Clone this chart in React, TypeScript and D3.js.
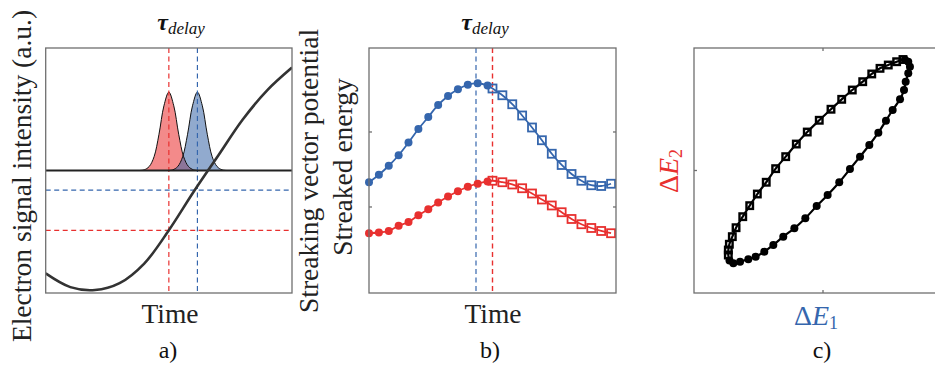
import React from 'react';
import * as d3 from 'd3';

// ---------- Panel a data ----------
const potentialTime = [0, 2.5, 5, 7.5, 10, 12.5, 15, 17.5, 20, 22.5, 25];
const potentialValue = [-1.05, -1.19, -1.22, -1.15, -0.95, -0.61, -0.22, 0.15, 0.52, 0.82, 1.05];
const pulseOffset = [-3, -2.5, -2, -1.5, -1, -0.5, 0, 0.5, 1, 1.5, 2, 2.5, 3];
const pulseShape = [0, 0.007, 0.04, 0.14, 0.37, 0.66, 0.8, 0.66, 0.37, 0.14, 0.04, 0.007, 0];
const redPulseCenter = 12.5;
const bluePulseCenter = 15.4;
const redLevel = -0.61;
const blueLevel = -0.2;

// ---------- Panel b data ----------
const circleTimes = [0, 1, 2, 3, 4, 5, 6, 7, 8, 9, 10, 11, 12];
const squareTimes = [12.5, 13.5, 14.5, 15.5, 16.5, 17.5, 18.5, 19.5, 20.5, 21.5, 22.5, 23.5, 24.5];
const blueCircle = [-0.67, -0.57, -0.45, -0.31, -0.14, 0.04, 0.2, 0.36, 0.48, 0.57, 0.63, 0.65, 0.62];
const blueSquare = [0.58, 0.49, 0.37, 0.22, 0.06, -0.11, -0.29, -0.44, -0.56, -0.65, -0.71, -0.72, -0.69];
const redCircle = [-1.35, -1.34, -1.32, -1.25, -1.2, -1.11, -1.03, -0.94, -0.86, -0.79, -0.73, -0.69, -0.66];
const redSquare = [-0.65, -0.67, -0.7, -0.75, -0.82, -0.9, -0.98, -1.07, -1.16, -1.23, -1.28, -1.32, -1.35];
const bDelayBlue = 10.83;
const bDelayRed = 12.5;
const bTicks = [-1, 0];

// ---------- Panel c data ----------
const sqE1 = [0.62, 0.571, 0.506, 0.442, 0.378, 0.308, 0.227, 0.145, 0.062, -0.029, -0.122, -0.207, -0.289, -0.367, -0.44, -0.509, -0.568, -0.622, -0.674, -0.703, -0.726, -0.734, -0.734];
const sqE2 = [0.906, 0.888, 0.861, 0.834, 0.788, 0.725, 0.657, 0.581, 0.5, 0.41, 0.314, 0.216, 0.113, 0.015, -0.096, -0.192, -0.287, -0.377, -0.467, -0.54, -0.602, -0.649, -0.69];
const ciE1 = [-0.725, -0.695, -0.643, -0.579, -0.522, -0.455, -0.385, -0.308, -0.222, -0.137, -0.049, 0.036, 0.126, 0.209, 0.287, 0.359, 0.429, 0.488, 0.54, 0.597, 0.628, 0.641, 0.661, 0.674, 0.661, 0.635];
const ciE2 = [-0.735, -0.758, -0.745, -0.725, -0.704, -0.663, -0.608, -0.54, -0.472, -0.39, -0.29, -0.2, -0.096, 0.012, 0.113, 0.208, 0.309, 0.407, 0.494, 0.581, 0.657, 0.725, 0.793, 0.847, 0.888, 0.905];
const cTicks = [0];

const RED = '#e8302f';
const BLUE = '#3566ad';
const BOX = '#6f6f6f';
const SERIF = '"Liberation Serif", "Times New Roman", serif';
const LABEL = 27.5;

const Y0 = 48, Y1 = 293;

function Tau({ x }: { x: number }) {
  return (
    <text x={x} y={30} fontFamily={SERIF} textAnchor="middle" fill="#111">
      <tspan fontSize={24} fontWeight="bold" fontStyle="italic">τ</tspan>
      <tspan fontSize={17} fontStyle="italic" dy={4}>delay</tspan>
    </text>
  );
}

export default function App() {
  // Panel a
  const ax = d3.scaleLinear().domain([0, 25]).range([45.7, 292]);
  const ay = d3.scaleLinear().domain([-1.25, 1.25]).range([Y1, Y0]);
  const potLine = d3.line<number>().x((_, i) => ax(potentialTime[i])).y((d) => ay(d)).curve(d3.curveCatmullRom.alpha(0.5));
  const pulseArea = (c: number) =>
    d3.area<number>().x((_, i) => ax(c + pulseOffset[i])).y0(ay(0)).y1((d) => ay(d)).curve(d3.curveCatmullRom.alpha(0.5))(pulseShape) as string;
  const pulseLine = (c: number) =>
    d3.line<number>().x((_, i) => ax(c + pulseOffset[i])).y((d) => ay(d)).curve(d3.curveCatmullRom.alpha(0.5))(pulseShape) as string;

  // Panel b
  const bx = d3.scaleLinear().domain([0, 25]).range([369, 616]);
  const by = d3.scaleLinear().domain([-2.147, 1.12]).range([Y1, Y0]);
  const allT = [...circleTimes, ...squareTimes];
  const bLine = (vals: number[]) =>
    d3.line<number>().x((_, i) => bx(allT[i])).y((d) => by(d)).curve(d3.curveCatmullRom.alpha(0.5))(vals) as string;

  // Panel c
  const cx = d3.scaleLinear().domain([-1, 1]).range([694, 952]);
  const cy = d3.scaleLinear().domain([-1, 1]).range([Y1, Y0]);
  const loopPts: [number, number][] = [
    ...sqE1.map((v, i) => [v, sqE2[i]] as [number, number]),
    ...ciE1.map((v, i) => [v, ciE2[i]] as [number, number]),
  ];
  const cLoop = d3.line<[number, number]>().x((d) => cx(d[0])).y((d) => cy(d[1])).curve(d3.curveCatmullRomClosed.alpha(0.5))(loopPts) as string;

  const dash = '5,3.5';
  const sq = 8;
  const csq = 6.5;

  return (
    <svg width={935} height={371} style={{ position: 'absolute', left: 0, top: 0, background: '#fff' }}>
      <defs>
        <clipPath id="clipA"><rect x={45.7} y={Y0} width={292 - 45.7} height={Y1 - Y0} /></clipPath>
        <clipPath id="clipC"><rect x={694} y={Y0} width={300} height={Y1 - Y0} /></clipPath>
      </defs>

      {/* ===== Panel a ===== */}
      <g>
        <g clipPath="url(#clipA)">
          <path d={pulseArea(redPulseCenter)} fill="rgb(235,60,60)" fillOpacity={0.6} />
          <path d={pulseArea(bluePulseCenter)} fill="rgb(55,100,165)" fillOpacity={0.55} />
          <path d={pulseLine(redPulseCenter)} fill="none" stroke="#111" strokeWidth={1} />
          <path d={pulseLine(bluePulseCenter)} fill="none" stroke="#111" strokeWidth={1} />
          <line x1={ax(0)} x2={ax(25)} y1={ay(blueLevel)} y2={ay(blueLevel)} stroke={BLUE} strokeWidth={1.2} strokeDasharray={dash} />
          <line x1={ax(0)} x2={ax(25)} y1={ay(redLevel)} y2={ay(redLevel)} stroke={RED} strokeWidth={1.2} strokeDasharray={dash} />
          <line x1={ax(redPulseCenter)} x2={ax(redPulseCenter)} y1={Y0} y2={Y1} stroke={RED} strokeWidth={1.2} strokeDasharray={dash} />
          <line x1={ax(bluePulseCenter)} x2={ax(bluePulseCenter)} y1={Y0} y2={Y1} stroke={BLUE} strokeWidth={1.2} strokeDasharray={dash} />
          <line x1={ax(0)} x2={ax(25)} y1={ay(0)} y2={ay(0)} stroke="#222" strokeWidth={2} />
          <path d={potLine(potentialValue) as string} fill="none" stroke="#333" strokeWidth={2.6} />
        </g>
        <rect x={45.7} y={Y0} width={292 - 45.7} height={Y1 - Y0} fill="none" stroke={BOX} strokeWidth={1.3} />
        <Tau x={181} />
        <text transform={`translate(31,176) rotate(-90)`} textAnchor="middle" fontFamily={SERIF} fontSize={LABEL} fill="#222">Electron signal intensity (a.u.)</text>
        <text x={170} y={323} textAnchor="middle" fontFamily={SERIF} fontSize={LABEL} fill="#222">Time</text>
        <text x={168} y={358} textAnchor="middle" fontFamily={SERIF} fontSize={24} fill="#111">a)</text>
      </g>

      {/* ===== Panel b ===== */}
      <g>
        <line x1={bx(bDelayBlue)} x2={bx(bDelayBlue)} y1={Y0} y2={Y1} stroke={BLUE} strokeWidth={1.2} strokeDasharray={dash} />
        <line x1={bx(bDelayRed)} x2={bx(bDelayRed)} y1={Y0} y2={Y1} stroke={RED} strokeWidth={1.4} strokeDasharray={dash} />
        <path d={bLine([...blueCircle, ...blueSquare])} fill="none" stroke={BLUE} strokeWidth={1.8} />
        <path d={bLine([...redCircle, ...redSquare])} fill="none" stroke={RED} strokeWidth={1.8} />
        {blueCircle.map((v, i) => <circle key={'bc' + i} cx={bx(circleTimes[i])} cy={by(v)} r={4} fill={BLUE} />)}
        {redCircle.map((v, i) => <circle key={'rc' + i} cx={bx(circleTimes[i])} cy={by(v)} r={4} fill={RED} />)}
        {blueSquare.map((v, i) => <rect key={'bs' + i} x={bx(squareTimes[i]) - sq / 2} y={by(v) - sq / 2} width={sq} height={sq} fill="none" stroke={BLUE} strokeWidth={1.8} />)}
        {redSquare.map((v, i) => <rect key={'rs' + i} x={bx(squareTimes[i]) - sq / 2} y={by(v) - sq / 2} width={sq} height={sq} fill="none" stroke={RED} strokeWidth={1.8} />)}
        <rect x={369} y={Y0} width={616 - 369} height={Y1 - Y0} fill="none" stroke={BOX} strokeWidth={1.3} />
        {bTicks.map((t) => (
          <g key={'bt' + t}>
            <line x1={369} x2={372} y1={by(t)} y2={by(t)} stroke={BOX} strokeWidth={1.3} />
            <line x1={616} x2={613} y1={by(t)} y2={by(t)} stroke={BOX} strokeWidth={1.3} />
          </g>
        ))}
        <Tau x={485} />
        <text transform={`translate(318,171) rotate(-90)`} textAnchor="middle" fontFamily={SERIF} fontSize={LABEL} fill="#222">Streaking vector potential</text>
        <text transform={`translate(352,167) rotate(-90)`} textAnchor="middle" fontFamily={SERIF} fontSize={LABEL} fill="#222">Streaked energy</text>
        <text x={493} y={323} textAnchor="middle" fontFamily={SERIF} fontSize={LABEL} fill="#222">Time</text>
        <text x={490} y={358} textAnchor="middle" fontFamily={SERIF} fontSize={24} fill="#111">b)</text>
      </g>

      {/* ===== Panel c ===== */}
      <g>
        <g clipPath="url(#clipC)">
          <path d={cLoop} fill="none" stroke="#000" strokeWidth={2.2} />
          {ciE1.map((v, i) => <circle key={'cc' + i} cx={cx(v)} cy={cy(ciE2[i])} r={4} fill="#000" />)}
          {sqE1.map((v, i) => <rect key={'cs' + i} x={cx(v) - csq / 2} y={cy(sqE2[i]) - csq / 2} width={csq} height={csq} fill="none" stroke="#000" strokeWidth={2.4} />)}
        </g>
        <rect x={694} y={Y0} width={952 - 694} height={Y1 - Y0} fill="none" stroke={BOX} strokeWidth={1.3} />
        {cTicks.map((t) => (
          <g key={'ct' + t}>
            <line x1={cx(t)} x2={cx(t)} y1={Y1} y2={Y1 - 3} stroke={BOX} strokeWidth={1.3} />
            <line x1={cx(t)} x2={cx(t)} y1={Y0} y2={Y0 + 3} stroke={BOX} strokeWidth={1.3} />
            <line x1={694} x2={697} y1={cy(t)} y2={cy(t)} stroke={BOX} strokeWidth={1.3} />
          </g>
        ))}
        <text transform={`translate(678,171) rotate(-90)`} textAnchor="middle" fontFamily={SERIF} fontSize={28} fill={RED}>
          <tspan>Δ</tspan><tspan fontStyle="italic">E</tspan><tspan fontSize={18} dy={4}>2</tspan>
        </text>
        <text x={816} y={325} textAnchor="middle" fontFamily={SERIF} fontSize={28} fill={BLUE}>
          <tspan>Δ</tspan><tspan fontStyle="italic">E</tspan><tspan fontSize={18} dy={4}>1</tspan>
        </text>
        <text x={822} y={358} textAnchor="middle" fontFamily={SERIF} fontSize={24} fill="#111">c)</text>
      </g>
    </svg>
  );
}
